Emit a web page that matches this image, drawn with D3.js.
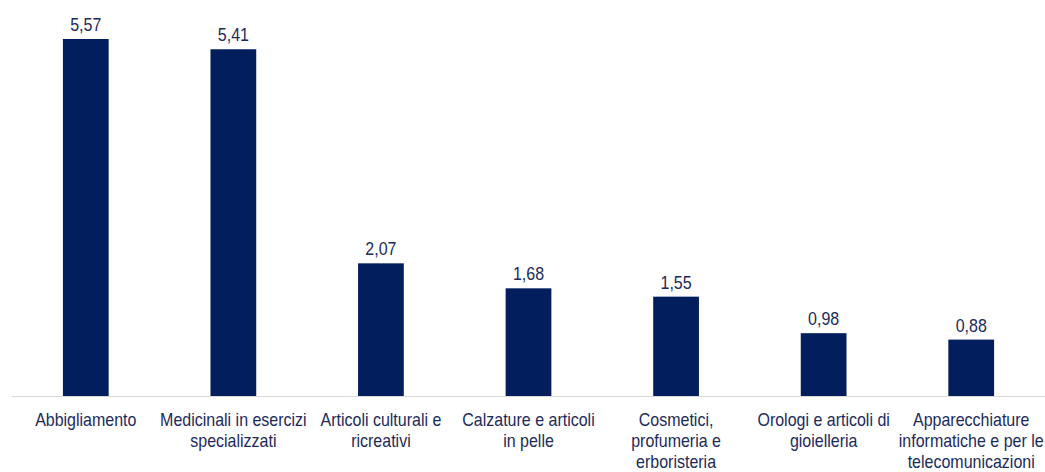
<!DOCTYPE html>
<html>
<head>
<meta charset="utf-8">
<script src="https://cdn.jsdelivr.net/npm/d3@7"></script>
<style>
  body { margin: 0; background: #fff; }
  text { font-family: "Liberation Sans", Arial, sans-serif; }
</style>
</head>
<body>
<div id="chart"></div>
<script>
// categories (line breaks as in the original labels)
var categories = [
  ["Abbigliamento"],
  ["Medicinali in esercizi", "specializzati"],
  ["Articoli culturali e", "ricreativi"],
  ["Calzature e articoli", "in pelle"],
  ["Cosmetici,", "profumeria e", "erboristeria"],
  ["Orologi e articoli di", "gioielleria"],
  ["Apparecchiature", "informatiche e per le", "telecomunicazioni"]
];
var values = [5.57, 5.41, 2.07, 1.68, 1.55, 0.98, 0.88];

var width = 1045, height = 472;
var margin = {top: 0, right: 0, bottom: 76, left: 12};
var baseY = height - margin.bottom;
var stretch = 1.2; // text in the original looks a bit tall/narrow

var svg = d3.select("#chart").append("svg")
  .attr("width", width)
  .attr("height", height);

var x = d3.scaleBand()
  .domain(d3.range(values.length))
  .range([margin.left, width - margin.right])
  .paddingInner(0.69)
  .paddingOuter(0.345);

var y = d3.scaleLinear()
  .domain([0, 5.57])
  .range([baseY, 39]);

var fmt = function(v) { return d3.format(".2f")(v).replace(".", ","); };
var cx = function(i) { return x(i) + x.bandwidth() / 2; };

svg.selectAll("rect.bar")
  .data(values)
  .enter()
  .append("rect")
    .attr("class", "bar")
    .attr("x", function(d, i) { return x(i); })
    .attr("y", function(d) { return y(d); })
    .attr("width", x.bandwidth())
    .attr("height", function(d) { return baseY - y(d); })
    .style("fill", "#021e5d");

// baseline
svg.append("line")
  .attr("x1", margin.left)
  .attr("x2", width)
  .attr("y1", baseY + 0.5)
  .attr("y2", baseY + 0.5)
  .style("stroke", "#d9d9d9")
  .style("stroke-width", 1);

// value labels
svg.selectAll("text.val")
  .data(values)
  .enter()
  .append("text")
    .attr("class", "val")
    .attr("transform", function(d, i) {
      return "translate(" + cx(i) + "," + (y(d) - 8) + ") scale(1," + stretch + ")";
    })
    .attr("text-anchor", "middle")
    .style("font-size", "16px")
    .style("fill", "#1c2b5a")
    .text(fmt);

// category labels
svg.selectAll("g.cat")
  .data(categories)
  .enter()
  .append("g")
    .attr("class", "cat")
    .each(function(lines, i) {
      d3.select(this).selectAll("text")
        .data(lines)
        .enter()
        .append("text")
          .attr("transform", function(s, j) {
            return "translate(" + cx(i) + "," + (baseY + 30 + j * 21) + ") scale(1," + stretch + ")";
          })
          .attr("text-anchor", "middle")
          .style("font-size", "16px")
          .style("fill", "#1c2b5a")
          .text(function(s) { return s; });
    });
</script>
</body>
</html>
